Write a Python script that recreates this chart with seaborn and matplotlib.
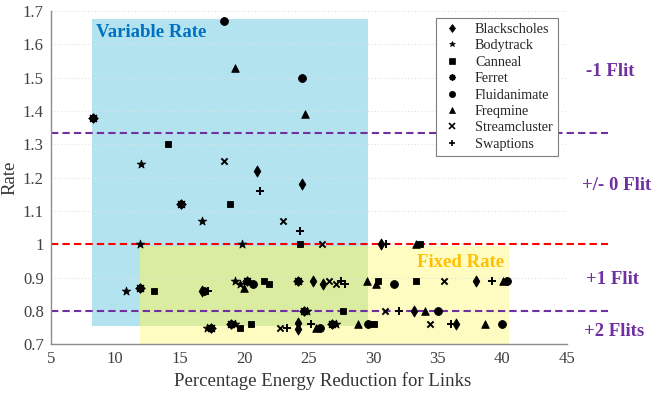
import numpy as np
import pandas as pd
import matplotlib
matplotlib.use("Agg")
import matplotlib.pyplot as plt
import seaborn as sns
from matplotlib.ticker import FuncFormatter
from matplotlib.lines import Line2D

# ------------------------------
# Data
# ------------------------------
blackscholes_x = [21.0, 24.5, 30.6, 16.7, 25.3, 26.1, 38.0, 33.2, 24.2, 24.2, 36.4]
blackscholes_y = [1.22, 1.18, 1.00, 0.86, 0.89, 0.88, 0.89, 0.80, 0.765, 0.745, 0.76]

bodytrack_x = [12.0, 16.7, 11.9, 19.8, 10.8, 19.3, 19.7, 24.9, 17.1, 19.3, 27.1]
bodytrack_y = [1.24, 1.07, 1.00, 1.00, 0.86, 0.89, 0.88, 0.80, 0.75, 0.76, 0.76]

canneal_x = [14.1, 18.9, 24.3, 33.6, 13.0, 21.5, 21.9, 30.4, 33.3, 27.7, 19.7, 20.5, 30.1]
canneal_y = [1.30, 1.12, 1.00, 1.00, 0.86, 0.89, 0.88, 0.89, 0.89, 0.80, 0.75, 0.76, 0.76]

ferret_x = [8.3, 15.1, 11.9, 20.2, 24.2, 24.6, 17.4, 19.0, 26.8]
ferret_y = [1.38, 1.12, 0.87, 0.89, 0.89, 0.80, 0.75, 0.76, 0.76]

fluidanimate_x = [18.4, 24.5, 16.9, 20.7, 31.6, 40.4, 35.0, 25.9, 29.6, 40.0]
fluidanimate_y = [1.67, 1.50, 0.86, 0.88, 0.88, 0.89, 0.80, 0.75, 0.76, 0.76]

freqmine_x = [19.3, 24.7, 33.3, 20.0, 29.5, 30.2, 40.1, 34.0, 25.6, 28.8, 38.7]
freqmine_y = [1.53, 1.39, 1.00, 0.87, 0.89, 0.88, 0.89, 0.80, 0.75, 0.76, 0.76]

streamcluster_x = [18.4, 23.0, 26.0, 26.6, 27.1, 35.5, 30.9, 22.8, 34.4]
streamcluster_y = [1.25, 1.07, 1.00, 0.89, 0.88, 0.89, 0.80, 0.75, 0.76]

swaptions_x = [21.2, 24.3, 31.0, 17.2, 27.5, 27.8, 39.2, 32.0, 23.3, 25.2, 36.0]
swaptions_y = [1.16, 1.04, 1.00, 0.86, 0.89, 0.88, 0.89, 0.80, 0.75, 0.76, 0.76]

benchmarks = ["Blackscholes", "Bodytrack", "Canneal", "Ferret",
              "Fluidanimate", "Freqmine", "Streamcluster", "Swaptions"]
xs = [blackscholes_x, bodytrack_x, canneal_x, ferret_x,
      fluidanimate_x, freqmine_x, streamcluster_x, swaptions_x]
ys = [blackscholes_y, bodytrack_y, canneal_y, ferret_y,
      fluidanimate_y, freqmine_y, streamcluster_y, swaptions_y]

df = pd.concat([pd.DataFrame({"bench": b, "x": x, "y": y})
                for b, x, y in zip(benchmarks, xs, ys)], ignore_index=True)

# flit thresholds and region labels
flit_levels = [4 / 3, 1.0, 0.8]
flit_colors = ["#7030a0", "#ff0000", "#7030a0"]
flit_labels = ["-1 Flit", "+/- 0 Flit", "+1 Flit", "+2 Flits"]

markers = {"Blackscholes": "d", "Bodytrack": "*", "Canneal": "s", "Ferret": (8, 2, 0),
           "Fluidanimate": "o", "Freqmine": "^", "Streamcluster": "x", "Swaptions": "+"}
sizes = {"Blackscholes": 32, "Bodytrack": 40, "Canneal": 24, "Ferret": 32,
         "Fluidanimate": 32, "Freqmine": 30, "Streamcluster": 20, "Swaptions": 34}
unfilled = ("Ferret", "Streamcluster", "Swaptions")

# ------------------------------
# Plot
# ------------------------------
sns.set_style("white")
plt.rcParams["font.family"] = ["Liberation Serif", "DejaVu Serif"]

fig = plt.figure(figsize=(6.53, 3.93), dpi=100)
ax = fig.add_axes([0.0777, 0.124, 0.79, 0.848])

# shaded regions
blue, yellow, green = "#b4e3f0", "#fffcc2", "#d9eca0"
ax.fill_between([8.2, 29.6], 0.755, 1.675, color=blue, lw=0, zorder=0.2)
ax.fill_between([11.9, 40.5], 0.7, 0.995, color=yellow, lw=0, zorder=0.2)
ax.fill_between([11.9, 29.6], 0.755, 0.995, color=green, lw=0, zorder=0.3)

for name in benchmarks:
    sub = df[df["bench"] == name]
    kw = dict(linewidths=1.4) if name in unfilled else dict(edgecolor="black", linewidth=0.6)
    sns.scatterplot(data=sub, x="x", y="y", marker=markers[name], color="black",
                    s=sizes[name], ax=ax, zorder=3, legend=False, **kw)

for lvl, c in zip(flit_levels, flit_colors):
    ax.plot([5, 48.2], [lvl, lvl], ls=(0, (3.5, 2)), color=c, lw=1.5,
            clip_on=False, zorder=2)

ax.text(8.5, 1.635, "Variable Rate", color="#0070c0", fontsize=13.5,
        fontweight="bold", va="center")
ax.text(33.4, 0.946, "Fixed Rate", color="#ffc000", fontsize=13.5,
        fontweight="bold", va="center")

for lab, xp, yp in zip(flit_labels, [610, 617, 612, 614], [72, 186, 280, 331]):
    fig.text(xp / 653, 1 - yp / 393, lab, color="#7030a0", fontsize=13.5,
             fontweight="bold", ha="center", va="center")

ax.set_xlim(5, 45)
ax.set_ylim(0.7, 1.7)
ax.set_xticks(np.arange(5, 46, 5))
ax.set_yticks(np.round(np.arange(0.7, 1.71, 0.1), 1))
ax.yaxis.set_major_formatter(FuncFormatter(lambda v, p: f"{v:g}"))
ax.set_xlabel("Percentage Energy Reduction for Links", fontsize=13.5, color="#333333")
ax.xaxis.set_label_coords(0.527, -0.085)
ax.set_ylabel("Rate", fontsize=13.5, color="#333333", labelpad=3)
ax.tick_params(direction="in", length=3, labelsize=12, colors="#404040", pad=5)

ax.set_axisbelow("line")
ax.yaxis.grid(True, ls=(0, (1, 2)), color="#e0e0e0", lw=0.8)
ax.xaxis.grid(False)
sns.despine(ax=ax)
for sp in ["left", "bottom"]:
    ax.spines[sp].set_color("#8c8c8c")
    ax.spines[sp].set_linewidth(1.0)

handles = [Line2D([], [], ls="", marker=markers[n], color="black",
                  markersize=4 if n == "Bodytrack" else 4.5,
                  mew=1.2 if n in unfilled else 0.5)
           for n in benchmarks]
leg = ax.legend(handles, benchmarks, loc="upper left",
                bbox_to_anchor=(436 / 653, 1 - 18 / 393), bbox_transform=fig.transFigure,
                fontsize=10.2, frameon=True, fancybox=False, framealpha=1,
                edgecolor="#7f7f7f", labelspacing=0.24, handletextpad=0.8,
                handlelength=1.6, borderpad=0.35, borderaxespad=0)
leg.get_frame().set_linewidth(0.8)
leg.set_zorder(5)

fig.savefig("out.png", dpi=100)
